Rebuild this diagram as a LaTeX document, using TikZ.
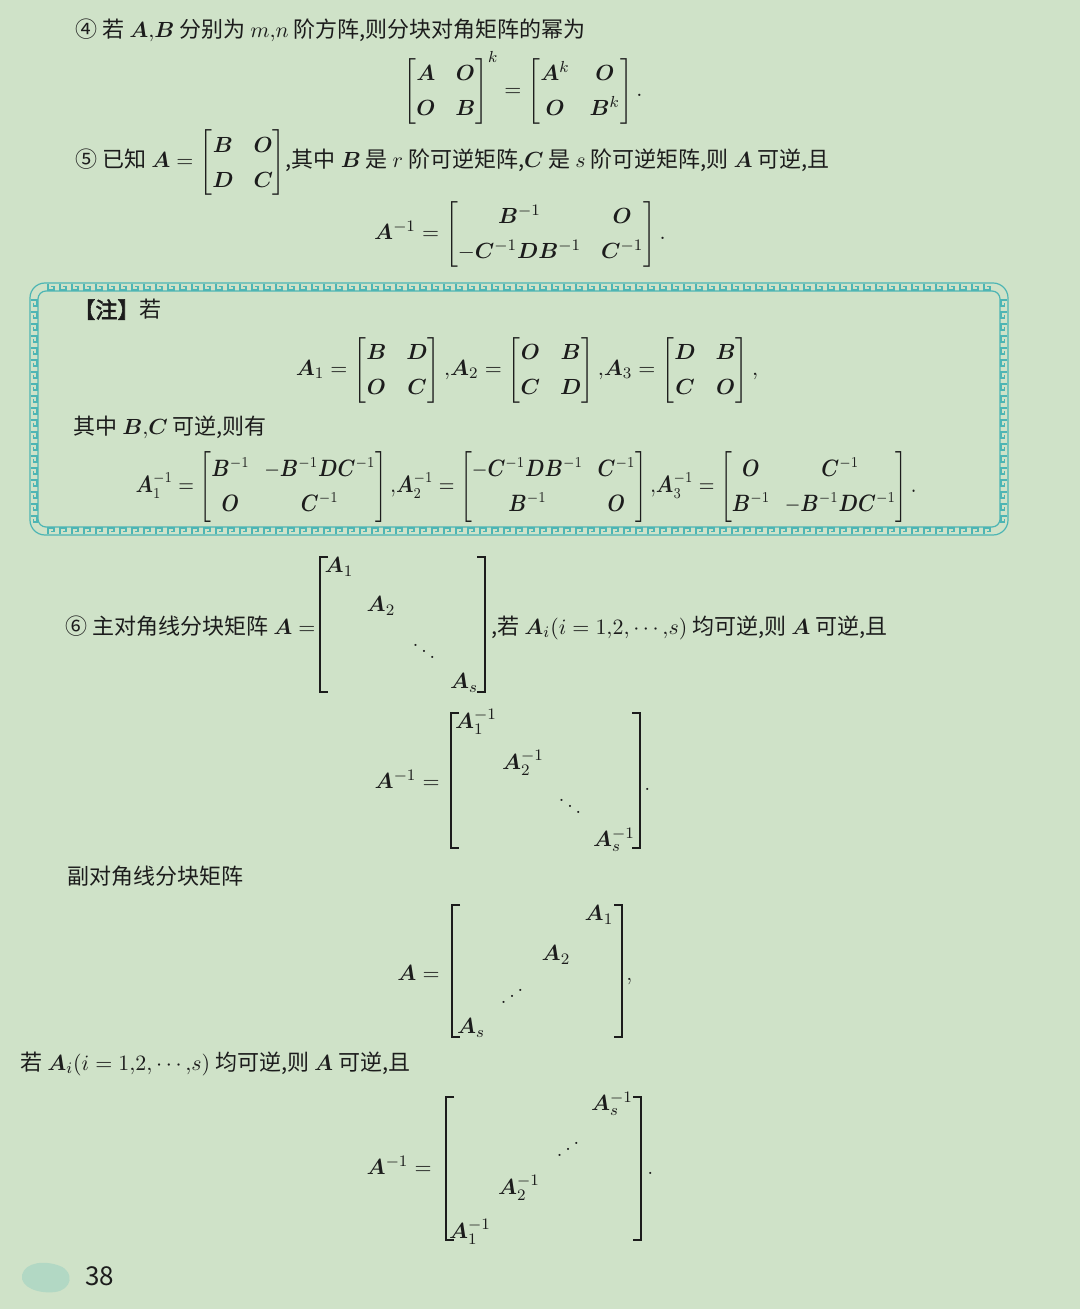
\documentclass[tikz,border=0pt]{standalone}
\usepackage{amsmath,bm,graphicx}
\usepackage[no-math]{fontspec}
\newfontfamily\cjk{Noto Sans CJK SC}
\newfontfamily\cjkbf[FakeBold=2.5]{Noto Sans CJK SC}
\definecolor{pagegreen}{HTML}{CFE2C8}
\definecolor{keyteal}{HTML}{4DB5B4}
\definecolor{ink}{HTML}{1C1C1C}
\newcommand{\mb}[1]{\bm{#1}}
\renewcommand{\arraystretch}{1.25}
\tikzset{
  txt/.style={anchor=base west, inner sep=0pt, font=\cjk\fontsize{11}{14}\selectfont, text=ink},
  eq/.style={inner sep=0pt, font=\fontsize{11}{14}\selectfont, text=ink},
  brk/.style={draw=ink, line width=0.6pt},
  keyline/.style={draw=keyteal, line width=0.6pt},
}
\begin{document}
\begin{tikzpicture}[x=0.5pt, y=-0.5pt]
    \fill[pagegreen] (0,0) rectangle (1080,1309);
    \useasboundingbox (0,0) rectangle (1080,1309);
    \node[txt] (l4) at (75,38) {④ 若 $\mb{A}{,}\mb{B}$ 分别为 $m{,}n$ 阶方阵,则分块对角矩阵的幂为};
    \node[eq] (pow) at (523,89) {$\begin{bmatrix}\mb{A}&\mb{O}\\\mb{O}&\mb{B}\end{bmatrix}^{k}=\begin{bmatrix}\mb{A}^{k}&\mb{O}\\\mb{O}&\mb{B}^{k}\end{bmatrix}.$};
    \node[txt] (l5) at (75,168) {⑤ 已知 $\mb{A}=\begin{bmatrix}\mb{B}&\mb{O}\\\mb{D}&\mb{C}\end{bmatrix}$,其中 $\mb{B}$ 是 $r$ 阶可逆矩阵,$\mb{C}$ 是 $s$ 阶可逆矩阵,则 $\mb{A}$ 可逆,且};
    \node[eq] (inv5) at (520,234) {$\mb{A}^{-1}=\begin{bmatrix}\mb{B}^{-1}&\mb{O}\\-\mb{C}^{-1}\mb{D}\mb{B}^{-1}&\mb{C}^{-1}\end{bmatrix}.$};
    \draw[keyline, rounded corners=7.5pt] (30,283) rectangle (1008,535);
    \draw[keyline, rounded corners=4pt] (38,291) rectangle (1000,527);
    \foreach \x in {48,60,...,988} {
        \draw[keyline] (\x,284) -- (\x,290) -- (\x+6,290) -- (\x+6,286.5) -- (\x+3,286.5);
        \draw[keyline] (\x,534) -- (\x,528) -- (\x+6,528) -- (\x+6,531.5) -- (\x+3,531.5);
    }
    \foreach \y in {300,312,...,516} {
        \draw[keyline] (31,\y) -- (37,\y) -- (37,\y+6) -- (33.5,\y+6) -- (33.5,\y+3);
        \draw[keyline] (1007,\y) -- (1001,\y) -- (1001,\y+6) -- (1004.5,\y+6) -- (1004.5,\y+3);
    }
    \node[txt] (note) at (73,318) {{\cjkbf 【注】}若};
    \node[eq] (defs) at (527,370) {$\mb{A}_1=\begin{bmatrix}\mb{B}&\mb{D}\\\mb{O}&\mb{C}\end{bmatrix}{,}\mb{A}_2=\begin{bmatrix}\mb{O}&\mb{B}\\\mb{C}&\mb{D}\end{bmatrix}{,}\mb{A}_3=\begin{bmatrix}\mb{D}&\mb{B}\\\mb{C}&\mb{O}\end{bmatrix},$};
    \node[txt] (given) at (73,435) {其中 $\mb{B}{,}\mb{C}$ 可逆,则有};
    \node[eq, font=\fontsize{10.5}{13}\selectfont\setlength{\arraycolsep}{4pt}] (invs) at (526,487) {\scalebox{0.92}[1.08]{$\mb{A}_1^{-1}=\begin{bmatrix}\mb{B}^{-1}&-\mb{B}^{-1}\mb{D}\mb{C}^{-1}\\\mb{O}&\mb{C}^{-1}\end{bmatrix}{,}\mb{A}_2^{-1}=\begin{bmatrix}-\mb{C}^{-1}\mb{D}\mb{B}^{-1}&\mb{C}^{-1}\\\mb{B}^{-1}&\mb{O}\end{bmatrix}{,}\mb{A}_3^{-1}=\begin{bmatrix}\mb{O}&\mb{C}^{-1}\\\mb{B}^{-1}&-\mb{B}^{-1}\mb{D}\mb{C}^{-1}\end{bmatrix}.$}};
    \node[txt] (l6) at (65,634) {⑥ 主对角线分块矩阵 $\mb{A}=$};
    \draw[brk] (328,557) -- (320,557) -- (320,692) -- (328,692);
    \draw[brk] (477,557) -- (485,557) -- (485,692) -- (477,692);
    \node[eq] (d1) at (339,567) {$\mb{A}_1$};
    \node[eq] (d2) at (381,606) {$\mb{A}_2$};
    \node[eq] (dd) at (424,645) {$\ddots$};
    \node[eq] (ds) at (464,683) {$\mb{A}_s$};
    \node[txt] (l6b) at (491,634) {,若 $\mb{A}_i(i=1{,}2{,}\cdots{,}s)$ 均可逆,则 $\mb{A}$ 可逆,且};
    \node[eq, anchor=base east] (inv6) at (440,788) {$\mb{A}^{-1}=$};
    \draw[brk] (459,713) -- (451,713) -- (451,848) -- (459,848);
    \draw[brk] (632,713) -- (640,713) -- (640,848) -- (632,848);
    \node[eq] (e1) at (476,722) {$\mb{A}_1^{-1}$};
    \node[eq] (e2) at (523,763) {$\mb{A}_2^{-1}$};
    \node[eq] (ed) at (570,800) {$\ddots$};
    \node[eq] (es) at (614,840) {$\mb{A}_s^{-1}$};
    \node[eq, anchor=base west] (p6) at (644,790) {.};
    \node[txt] (anti) at (67,884) {副对角线分块矩阵};
    \node[eq, anchor=base east] (a7) at (440,980) {$\mb{A}=$};
    \draw[brk] (460,905) -- (452,905) -- (452,1037) -- (460,1037);
    \draw[brk] (614,905) -- (622,905) -- (622,1037) -- (614,1037);
    \node[eq] (f1) at (599,915) {$\mb{A}_1$};
    \node[eq] (f2) at (556,955) {$\mb{A}_2$};
    \node[eq] (fd) at (512,990) {\reflectbox{$\ddots$}};
    \node[eq] (fs) at (471,1028) {$\mb{A}_s$};
    \node[eq, anchor=base west] (c7) at (626,980) {,};
    \node[txt] (l7) at (20,1070) {若 $\mb{A}_i(i=1{,}2{,}\cdots{,}s)$ 均可逆,则 $\mb{A}$ 可逆,且};
    \node[eq, anchor=base east] (inv7) at (432,1174) {$\mb{A}^{-1}=$};
    \draw[brk] (454,1097) -- (446,1097) -- (446,1240) -- (454,1240);
    \draw[brk] (633,1097) -- (641,1097) -- (641,1240) -- (633,1240);
    \node[eq] (g1) at (612,1104) {$\mb{A}_s^{-1}$};
    \node[eq] (gd) at (568,1143) {\reflectbox{$\ddots$}};
    \node[eq] (g2) at (519,1188) {$\mb{A}_2^{-1}$};
    \node[eq] (gs) at (470,1232) {$\mb{A}_1^{-1}$};
    \node[eq, anchor=base west] (p7) at (647,1174) {.};
    \fill[keyteal!22!pagegreen] (22,1275) .. controls (25,1262) and (45,1260) .. (60,1266) .. controls (75,1272) and (72,1290) .. (55,1292) .. controls (40,1294) and (20,1288) .. (22,1275) -- cycle;
    \node[txt, font=\cjk\fontsize{13}{15}\selectfont] (pg) at (85,1285) {38};
\end{tikzpicture}
\end{document}
